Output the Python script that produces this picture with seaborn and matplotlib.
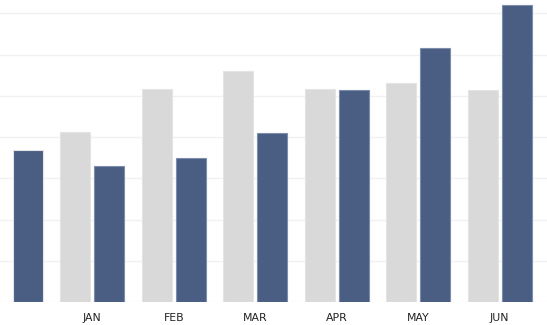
import matplotlib
matplotlib.use("Agg")
import matplotlib.pyplot as plt
import seaborn as sns
import numpy as np
import pandas as pd

categories = ["", "JAN", "FEB", "MAR", "APR", "MAY", "JUN"]
series_names = ["Previous", "Current"]
previous = [np.nan, 41.2, 51.6, 56.0, 51.6, 53.1, 51.4]
current = [36.9, 33.0, 34.9, 40.9, 51.3, 61.5, 72.0]
y_ticks = [0, 10, 20, 30, 40, 50, 60, 70]

df = pd.DataFrame({
    "month": categories * 2,
    "series": [series_names[0]] * len(categories) + [series_names[1]] * len(categories),
    "value": previous + current,
})

sns.set_theme(style="white")
plt.rcParams["font.family"] = ["DejaVu Sans"]

fig = plt.figure(figsize=(5.47, 3.25), dpi=100)
ax = fig.add_axes([0, 22.7 / 325, 1, 1 - 22.7 / 325])

sns.barplot(data=df, x="month", y="value", hue="series", order=categories,
            hue_order=series_names, palette=["#d9d9d9", "#4a5d83"], saturation=1,
            width=0.84, gap=0.12, ax=ax, legend=False, errorbar=None)

for patch, ec in zip(ax.patches, ["#e4e4e4"] * len(categories) + ["#7d8cab"] * len(categories)):
    patch.set_edgecolor(ec)
    patch.set_linewidth(0.8)

ax.set_xlim(-0.131, 6.58)
ax.set_ylim(0, 73.2)
ax.set_yticks(y_ticks)
ax.yaxis.grid(True, color="#f1f1f1", linewidth=1.0)
ax.set_axisbelow(True)
ax.tick_params(axis="y", left=False, labelleft=False)
ax.tick_params(axis="x", bottom=False, labelsize=7.8, colors="#222222", pad=2)
ax.set_xlabel("")
ax.set_ylabel("")
for s in ax.spines.values():
    s.set_visible(False)

fig.savefig("out.png", dpi=100)
